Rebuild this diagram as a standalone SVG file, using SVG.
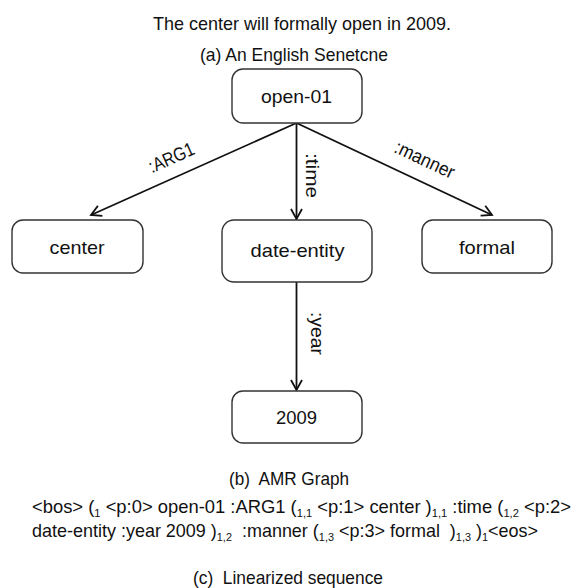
<svg xmlns="http://www.w3.org/2000/svg" width="576" height="588" viewBox="0 0 576 588">
  <style>
    text { font-family: "Liberation Sans", Arial, sans-serif; fill: #111; white-space: pre; }
    .cap { font-size: 19px; }
    .node rect { fill: #fff; stroke: #333; stroke-width: 1.4; }
    .node text { font-size: 19px; text-anchor: middle; }
    .edge { stroke: #111; stroke-width: 1.8; fill: none; marker-end: url(#arrow); }
    .lbl { font-size: 19px; text-anchor: middle; }
    .sub { font-size: 11.5px; }
  </style>
  <defs>
    <marker id="arrow" viewBox="-12 -7 14 14" markerWidth="14" markerHeight="14" refX="0" refY="0" orient="auto" markerUnits="userSpaceOnUse">
      <path d="M-10,-5.5 L0,0 L-10,5.5" fill="none" stroke="#111" stroke-width="1.8" stroke-linejoin="miter"/>
    </marker>
  </defs>

  <text class="cap" x="153" y="29.5" textLength="298" lengthAdjust="spacingAndGlyphs">The center will formally open in 2009.</text>
  <text class="cap" x="200" y="61" textLength="188" lengthAdjust="spacingAndGlyphs">(a) An English Senetcne</text>

  <g id="connectors">
    <line class="edge" x1="296.5" y1="123" x2="91" y2="215"/>
    <line class="edge" x1="296.5" y1="123" x2="296.5" y2="219"/>
    <line class="edge" x1="296.5" y1="123" x2="492" y2="215"/>
    <line class="edge" x1="296.5" y1="282" x2="296.5" y2="390"/>
    <text class="lbl" x="174" y="163.5" textLength="48" lengthAdjust="spacingAndGlyphs" transform="rotate(-24.1 174 163.5)">:ARG1</text>
    <text class="lbl" x="306" y="175.5" textLength="45" lengthAdjust="spacingAndGlyphs" transform="rotate(90 306 175.5)">:time</text>
    <text class="lbl" x="422" y="165.4" textLength="64" lengthAdjust="spacingAndGlyphs" transform="rotate(25.2 422 165.4)">:manner</text>
    <text class="lbl" x="311" y="333.5" textLength="43" lengthAdjust="spacingAndGlyphs" transform="rotate(90 311 333.5)">:year</text>
  </g>

  <g id="node-open01" class="node">
    <rect x="232" y="69" width="130" height="54" rx="11"/>
    <text x="296.5" y="102.5" textLength="71" lengthAdjust="spacingAndGlyphs">open-01</text>
  </g>
  <g id="node-center" class="node">
    <rect x="12" y="220" width="131" height="53" rx="11"/>
    <text x="77" y="254" textLength="55" lengthAdjust="spacingAndGlyphs">center</text>
  </g>
  <g id="node-date-entity" class="node">
    <rect x="222" y="220" width="150" height="62" rx="12"/>
    <text x="297.5" y="257" textLength="94" lengthAdjust="spacingAndGlyphs">date-entity</text>
  </g>
  <g id="node-formal" class="node">
    <rect x="422" y="220" width="130" height="53" rx="11"/>
    <text x="487" y="254" textLength="56" lengthAdjust="spacingAndGlyphs">formal</text>
  </g>
  <g id="node-2009" class="node">
    <rect x="232" y="391" width="130" height="52" rx="11"/>
    <text x="296.5" y="424" textLength="41" lengthAdjust="spacingAndGlyphs">2009</text>
  </g>

  <text class="cap" x="229" y="485" textLength="120" lengthAdjust="spacingAndGlyphs">(b)  AMR Graph</text>
  <text class="cap" x="32" y="512.5" textLength="539" lengthAdjust="spacingAndGlyphs">&lt;bos&gt; (<tspan class="sub" dy="4">1</tspan><tspan dy="-4"> &lt;p:0&gt; open-01 :ARG1 (</tspan><tspan class="sub" dy="4">1,1</tspan><tspan dy="-4"> &lt;p:1&gt; center )</tspan><tspan class="sub" dy="4">1,1</tspan><tspan dy="-4"> :time (</tspan><tspan class="sub" dy="4">1,2</tspan><tspan dy="-4"> &lt;p:2&gt;</tspan></text>
  <text class="cap" x="32" y="537" textLength="506" lengthAdjust="spacingAndGlyphs">date-entity :year 2009 )<tspan class="sub" dy="4">1,2</tspan><tspan dy="-4">  :manner (</tspan><tspan class="sub" dy="4">1,3</tspan><tspan dy="-4"> &lt;p:3&gt; formal  )</tspan><tspan class="sub" dy="4">1,3</tspan><tspan dy="-4"> )</tspan><tspan class="sub" dy="4">1</tspan><tspan dy="-4">&lt;eos&gt;</tspan></text>
  <text class="cap" x="193" y="583.5" textLength="190" lengthAdjust="spacingAndGlyphs">(c)  Linearized sequence</text>
</svg>
